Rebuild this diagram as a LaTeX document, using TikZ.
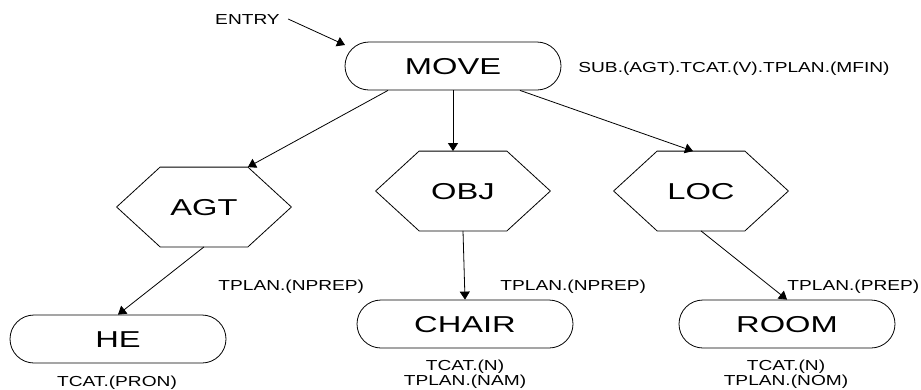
\documentclass[tikz,border=0pt]{standalone}
\usepackage{fontspec}
\setmainfont{Liberation Sans}
\usepackage{graphicx}
\usetikzlibrary{arrows.meta,calc}
% wide lettering used throughout the network
\newcommand{\wt}[1]{\scalebox{1.32}[1]{#1}}
\newcommand{\wb}[1]{\scalebox{1.42}[1]{#1}}

\begin{document}
\begin{tikzpicture}[x=1pt,y=-1pt,
  line width=0.8pt,
  big/.style={font=\fontsize{23}{27}\selectfont, text height=16.5pt, text depth=0pt, inner sep=0pt},
  stadium/.style={big, draw, rounded corners=24pt, minimum width=216pt, minimum height=48pt},
  hexbox/.style={big, minimum width=174pt, minimum height=79pt},
  lbl/.style={font=\fontsize{14.5}{15}\selectfont, inner sep=0pt},
  link/.style={-{Triangle[length=8pt,width=10pt]}},
]
\useasboundingbox (0,0) rectangle (921,389);

% frame nodes
\node[stadium] (move)  at (453,66)  {\wb{MOVE}};
\node[hexbox]  (agt)   at (204,207) {\wb{AGT}};
\node[hexbox]  (obj)   at (463,191) {\wb{OBJ}};
\node[hexbox]  (loc)   at (701,191) {\wb{LOC}};
\node[stadium] (he)    at (118,339) {\wb{HE}};
\node[stadium] (chair) at (465,324) {\wb{CHAIR}};
\node[stadium] (room)  at (787,324) {\wb{ROOM}};

% hexagonal outlines of the case nodes
\foreach \h in {agt,obj,loc}
  \draw (\h.west) -- ([xshift=43.5pt]\h.north west) -- ([xshift=-43.5pt]\h.north east)
        -- (\h.east) -- ([xshift=-43.5pt]\h.south east) -- ([xshift=43.5pt]\h.south west) -- cycle;

% feature annotations
\node[lbl, anchor=base]      (entry) at (247.5,24)  {\wt{ENTRY}};
\node[lbl, anchor=base west] (sub)   at (578,72.7)  {\wt{SUB.(AGT).TCAT.(V).TPLAN.(MFIN)}};
\node[lbl, anchor=base west] (npl)   at (218,290)   {\wt{TPLAN.(NPREP)}};
\node[lbl, anchor=base west] (npr)   at (500,290)   {\wt{TPLAN.(NPREP)}};
\node[lbl, anchor=base west] (prep)  at (787,290)   {\wt{TPLAN.(PREP)}};
\node[lbl, anchor=base]      (pron)  at (117,386)   {\wt{TCAT.(PRON)}};
\node[lbl, anchor=base]      (chn)   at (465,370.7) {\wt{TCAT.(N)}};
\node[lbl, anchor=base]      (chnam) at (465,385.7) {\wt{TPLAN.(NAM)}};
\node[lbl, anchor=base]      (rmn)   at (786,370.7) {\wt{TCAT.(N)}};
\node[lbl, anchor=base]      (rmnom) at (786,385.7) {\wt{TPLAN.(NOM)}};

% arcs
\coordinate (entryend) at (345,45);
\draw[link] ([xshift=8pt]entry.east) -- (entryend);
\draw[link] ([xshift=-65pt]move.south) -- ([xshift=-43.5pt]agt.north east);
\draw[link] (move.south) -- (move.south |- obj.north);
\draw[link] ([xshift=67pt]move.south) -- ([xshift=-8pt]loc.north);
\draw[link] (agt.south) -- (he.north);
\draw[link] (obj.south) -- (chair.north);
\draw[link] (loc.south) -- (room.north);
\end{tikzpicture}
\end{document}
